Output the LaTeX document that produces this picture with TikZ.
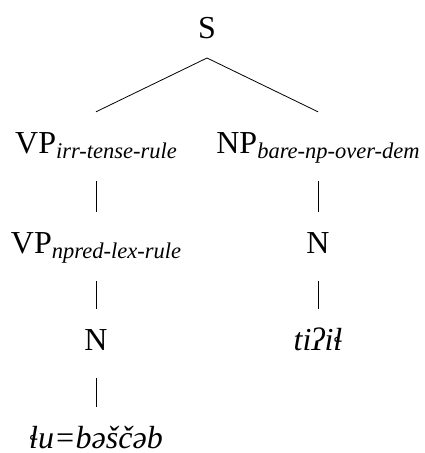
\documentclass[tikz,border=0pt]{standalone}
\usepackage{fontspec}
\setmainfont{Liberation Serif}[UprightFont={Liberation Serif},ItalicFont={Liberation Serif Italic},BoldFont={Liberation Serif Bold}]
\begin{document}
\begin{tikzpicture}[x=1pt,y=-1pt,
  lab/.style={anchor=base,inner sep=0pt,text height=21pt,text depth=0pt,font=\fontsize{32}{38}\selectfont},
  edge/.style={line width=0.8pt,black}]
\newcommand{\subl}[1]{\raisebox{-5pt}{\fontsize{22.5}{26}\selectfont\itshape #1}}
\useasboundingbox (0,0) rectangle (424,453);
\node[lab] (S) at (207,38) {S};
\node[lab] (VPa) at (96,153) {VP\subl{irr-tense-rule}};
\node[lab] (NPa) at (318,153) {NP\subl{bare-np-over-dem}};
\node[lab] (VPb) at (96,253) {VP\subl{npred-lex-rule}};
\node[lab] (Nr) at (318,253) {N};
\node[lab] (Nl) at (96,350) {N};
\node[lab] (wr) at (318,350) {\itshape tiʔiɬ};
\node[lab] (wl) at (96,448) {\itshape ɬu=bəščəb};
\draw[edge] ([yshift=20pt]VPa.north) -- ([yshift=-20pt]S.base) -- ([yshift=20pt]NPa.north);
\draw[edge] ([yshift=-28pt]VPa.base) -- ([yshift=20pt]VPb.north);
\draw[edge] ([yshift=-28pt]NPa.base) -- ([yshift=20pt]Nr.north);
\draw[edge] ([yshift=-28pt]VPb.base) -- ([yshift=20pt]Nl.north);
\draw[edge] ([yshift=-28pt]Nr.base) -- ([yshift=20pt]wr.north);
\draw[edge] ([yshift=-28pt]Nl.base) -- ([yshift=20pt]wl.north);
\end{tikzpicture}
\end{document}
